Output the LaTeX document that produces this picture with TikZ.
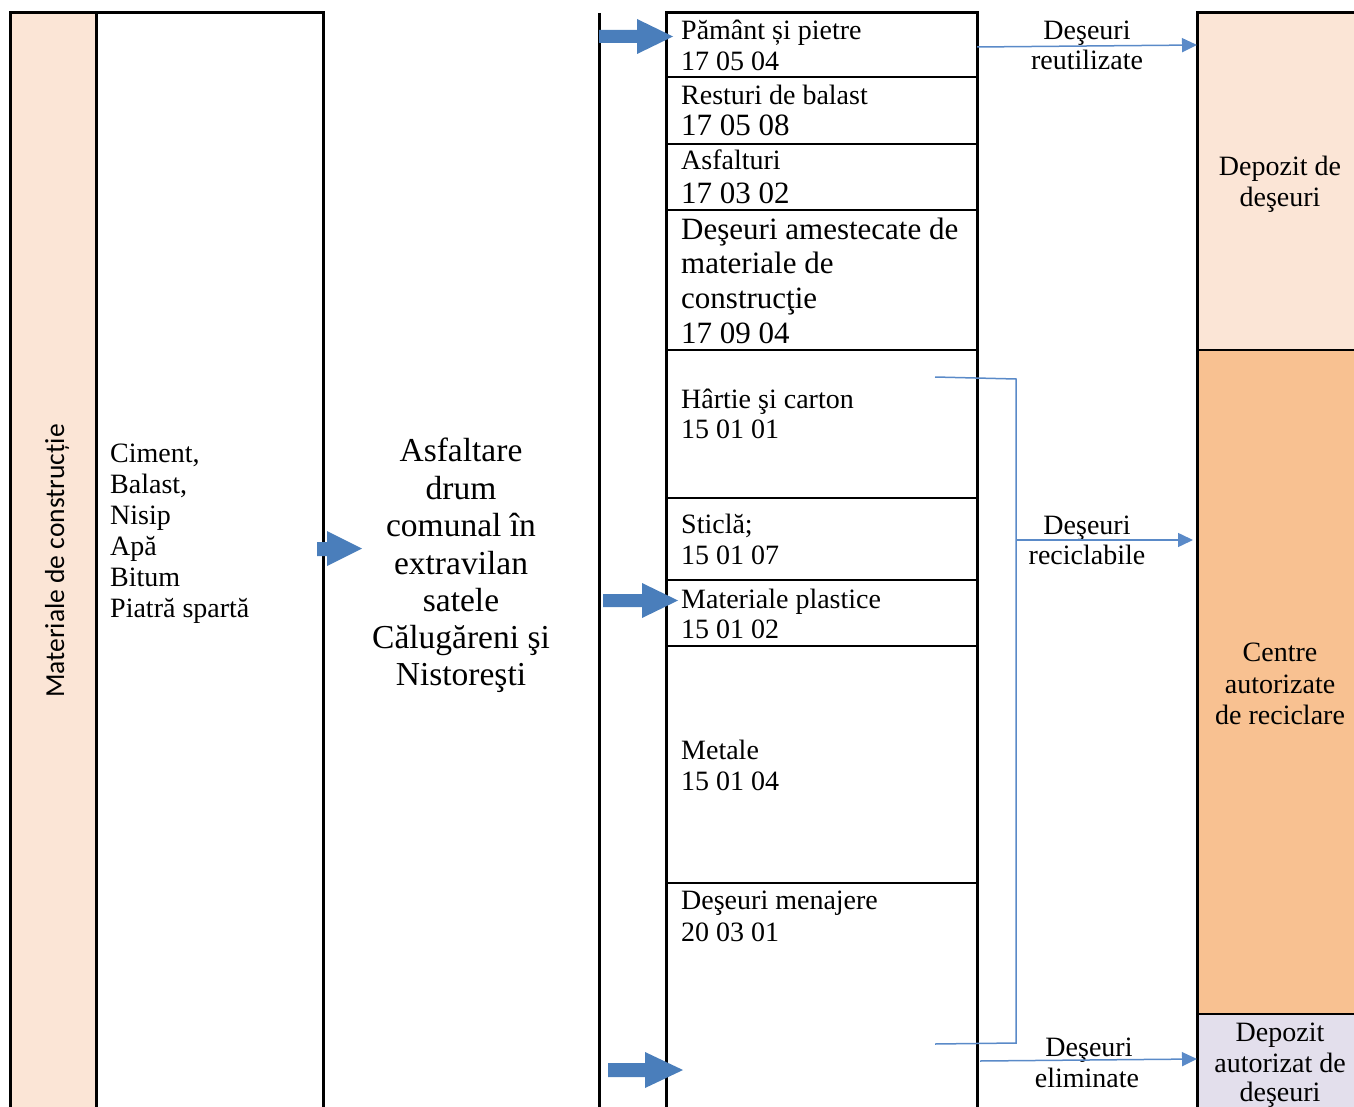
\documentclass[tikz,border=0pt]{standalone}
\usepackage{fontspec}
\setmainfont{Liberation Serif}
\newfontfamily\calibrifont{Carlito}
\usetikzlibrary{arrows.meta}
\definecolor{peach}{HTML}{FBE5D6}
\definecolor{orangefill}{HTML}{F8C191}
\definecolor{lavender}{HTML}{E3DFEC}
\definecolor{blockblue}{HTML}{4A7EBB}
\definecolor{lineblue}{HTML}{5A8AC8}
\begin{document}
\begin{tikzpicture}[x=1pt,y=-1pt,
  frame/.style={line width=3pt, black},
  rowline/.style={line width=2.4pt, black},
  txt/.style={inner sep=0pt, anchor=base west, font=\fontsize{28}{31}\selectfont},
  bigtxt/.style={inner sep=0pt, anchor=base west, font=\fontsize{31}{35}\selectfont},
  ctxt/.style={inner sep=0pt, anchor=base, font=\fontsize{28}{31}\selectfont},
  htxt/.style={inner sep=0pt, anchor=base, font=\fontsize{33.5}{37}\selectfont},
  blockarrow/.style={fill=blockblue, draw=none},
  thinarrow/.style={draw=lineblue, line width=1.5pt, -{Triangle[length=15pt,width=14pt]}},
  thinline/.style={draw=lineblue, line width=1.5pt}]
\useasboundingbox (0,0) rectangle (1354,1107);

% ---- fills ----
\fill[peach] (10,13) rectangle (96,1107);
\fill[peach] (1197,13) rectangle (1354,350);
\fill[orangefill] (1197,350) rectangle (1354,1014);
\fill[lavender] (1197,1014) rectangle (1354,1107);

% ---- frames ----
\draw[frame] (10,1107) -- (10,13) -- (323,13) -- (323,1107);
\draw[frame] (96,13) -- (96,1107);
\draw[frame] (599,13) -- (599,1107);
\draw[frame] (666,1107) -- (666,13) -- (977,13) -- (977,1107);
\foreach \yy in {77,144,210,350,498,580,646,883}
  \draw[rowline] (666,\yy) -- (977,\yy);
\draw[frame] (1197,1107) -- (1197,13) -- (1354,13);
\draw[rowline] (1197,350) -- (1354,350);
\draw[rowline] (1197,1014) -- (1354,1014);

% ---- vertical label ----
\node[inner sep=0pt, anchor=base, rotate=90, font=\calibrifont\fontsize{27.5}{32}\selectfont] (matlabel) at (64,561) {Materiale de construcție};

% ---- materials ----
\node[txt] (m1) at (110,462) {Ciment,};
\node[txt] (m2) at (110,493) {Balast,};
\node[txt] (m3) at (110,524) {Nisip};
\node[txt] (m4) at (110,555) {Apă};
\node[txt] (m5) at (110,586) {Bitum};
\node[txt] (m6) at (110,617) {Piatră spartă};

% ---- process ----
\node[htxt] (p1) at (461,461) {Asfaltare};
\node[htxt] (p2) at (461,499) {drum};
\node[htxt] (p3) at (461,536) {comunal în};
\node[htxt] (p4) at (461,574) {extravilan};
\node[htxt] (p5) at (461,611) {satele};
\node[htxt] (p6) at (461,648) {Călugăreni şi};
\node[htxt] (p7) at (461,685) {Nistoreşti};

% ---- waste list ----
\node[txt] (w1a) at (681,40) {Pământ și pietre};
\node[txt] (w1b) at (681,71) {17 05 04};
\node[txt] (w2a) at (681,105) {Resturi de balast};
\node[bigtxt] (w2b) at (681,136) {17 05 08};
\node[txt] (w3a) at (681,170) {Asfalturi};
\node[bigtxt] (w3b) at (681,204) {17 03 02};
\node[bigtxt] (w4a) at (681,240) {Deşeuri amestecate de};
\node[bigtxt] (w4b) at (681,274) {materiale de};
\node[bigtxt] (w4c) at (681,308) {construcţie};
\node[bigtxt] (w4d) at (681,343) {17 09 04};
\node[txt] (w5a) at (681,408) {Hârtie şi carton};
\node[txt] (w5b) at (681,438) {15 01 01};
\node[txt] (w6a) at (681,533) {Sticlă;};
\node[txt] (w6b) at (681,564) {15 01 07};
\node[txt] (w7a) at (681,608) {Materiale plastice};
\node[txt] (w7b) at (681,638) {15 01 02};
\node[txt] (w8a) at (681,759) {Metale};
\node[txt] (w8b) at (681,790) {15 01 04};
\node[txt] (w9a) at (681,909) {Deşeuri menajere};
\node[txt] (w9b) at (681,941) {20 03 01};

% ---- destinations ----
\node[ctxt] (d1a) at (1280,176) {Depozit de};
\node[ctxt] (d1b) at (1280,207) {deşeuri};
\node[ctxt] (d2a) at (1280,661) {Centre};
\node[ctxt] (d2b) at (1280,693) {autorizate};
\node[ctxt] (d2c) at (1280,724) {de reciclare};
\node[ctxt] (d3a) at (1280,1041) {Depozit};
\node[ctxt] (d3b) at (1280,1072) {autorizat de};
\node[ctxt] (d3c) at (1280,1101) {deşeuri};

% ---- connector labels ----
\node[ctxt] (l1a) at (1087,40) {Deşeuri};
\node[ctxt] (l1b) at (1087,70) {reutilizate};
\node[ctxt] (l2a) at (1087,534) {Deşeuri};
\node[ctxt] (l2b) at (1087,564) {reciclabile};
\node[ctxt] (l3a) at (1089,1056) {Deşeuri};
\node[ctxt] (l3b) at (1087,1087) {eliminate};

% ---- block arrows ----
\fill[blockarrow] (599,30) -- (637,30) -- (637,19) -- (673,36.5) -- (637,54) -- (637,43) -- (599,43) -- cycle;
\fill[blockarrow] (317,542) -- (327,542) -- (327,531) -- (362,548.5) -- (327,566) -- (327,556) -- (317,556) -- cycle;
\fill[blockarrow] (603,594) -- (642,594) -- (642,583) -- (678,600.5) -- (642,618) -- (642,607) -- (603,607) -- cycle;
\fill[blockarrow] (608,1063) -- (645,1063) -- (645,1052) -- (683,1070) -- (645,1088) -- (645,1077) -- (608,1077) -- cycle;

% ---- thin connectors ----
\coordinate (reuse) at (977,47);
\coordinate (depin) at (1197,45);
\draw[thinarrow] (reuse) -- (depin);

\coordinate (brtop) at (935,377);
\coordinate (brtopc) at (1016,379);
\coordinate (brbotc) at (1016,1043);
\coordinate (brbot) at (935,1044);
\coordinate (brmid) at (1016,540);
\coordinate (recin) at (1193,540);
\draw[thinline] (brtop) -- (brtopc) -- (brbotc) -- (brbot);
\draw[thinarrow] (brmid) -- (recin);

\coordinate (elim) at (980,1061);
\coordinate (elimin) at (1197,1059);
\draw[thinarrow] (elim) -- (elimin);
\end{tikzpicture}
\end{document}
